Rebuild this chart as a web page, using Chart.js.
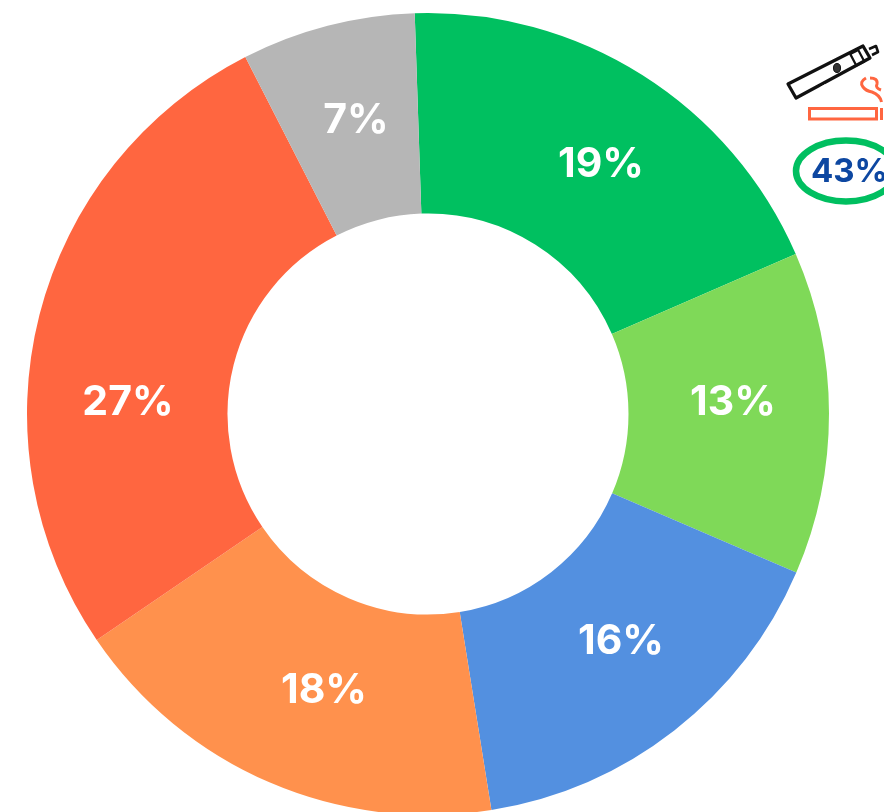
<!DOCTYPE html>
<html><head><meta charset="utf-8">
<script src="https://cdn.jsdelivr.net/npm/chart.js@4"></script>
<style>
html,body{margin:0;padding:0;background:#fff;width:884px;height:812px;overflow:hidden}
#wrap{position:relative;width:884px;height:812px;overflow:hidden}
canvas{position:absolute;left:0;top:0}
svg{position:absolute;left:0;top:0}
</style></head><body>
<div id="wrap">
<canvas id="c" width="884" height="830"></canvas>
<svg width="884" height="812" fill="none">
  <g stroke="#111" stroke-width="3.2" stroke-linejoin="round">
    <path d="M788 84 L863 46 L870 58 L796 98 Z" fill="#fff"/>
    <path d="M869 49 L876 46 L878 52 L872 55" stroke-width="2.6"/>
    <rect x="853" y="51" width="9" height="13" transform="rotate(-28 858 58)" stroke-width="2.2"/>
    <ellipse cx="837" cy="68" rx="3.5" ry="4.5" fill="#333" stroke-width="1"/>
    <path d="M826 86 L821 89" stroke="#fff" stroke-width="4"/>
  </g>
  <g stroke="#FF6640" stroke-width="3">
    <rect x="809.5" y="108.5" width="67" height="10.5"/>
    <path d="M881.5 108 V120"/>
    <path d="M866 78 Q859 82 863 87 Q866 91 872 92 Q880 95 881.5 102 M870 78 Q878 78 877 84 Q875 88 881 90"/>
  </g>
  <ellipse cx="846" cy="171" rx="50" ry="30.5" stroke="#00BF60" stroke-width="6.5"/>
</svg>
<div id="t" style="position:absolute;left:811px;top:151px;font:700 33px Inter,sans-serif;color:#0D47A1;white-space:nowrap;line-height:39px">43%</div>
</div>
<script>
const categories = ['A','B','C','D','E','F'];
const values = [19, 13, 16, 18, 27, 7];
const colors = ['#00C060','#7FD958','#5390E0','#FF914D','#FF6640','#B6B6B6'];
const valueLabels = ['19%','13%','16%','18%','27%','7%'];
const labelX = [601, 733, 621, 324, 128, 356];
const labelY = [164, 402, 641, 690, 402, 120];

const labelPlugin = {
  id: 'sliceLabels',
  afterDatasetsDraw(chart) {
    const ctx = chart.ctx;
    ctx.save();
    ctx.fillStyle = '#fff';
    ctx.font = '700 41px Inter, sans-serif';
    ctx.textAlign = 'center';
    ctx.textBaseline = 'middle';
    valueLabels.forEach((s, i) => ctx.fillText(s, labelX[i], labelY[i] + 1));
    ctx.restore();
  }
};

new Chart(document.getElementById('c'), {
  type: 'doughnut',
  data: { labels: categories, datasets: [{ data: values, backgroundColor: colors, borderWidth: 0 }] },
  options: {
    responsive: false,
    animation: false,
    rotation: -1.9,
    cutout: '50%',
    layout: { padding: { left: 27, right: 55, top: 13, bottom: 15 } },
    plugins: { legend: { display: false }, tooltip: { enabled: false } }
  },
  plugins: [labelPlugin]
});
</script>
</body></html>
